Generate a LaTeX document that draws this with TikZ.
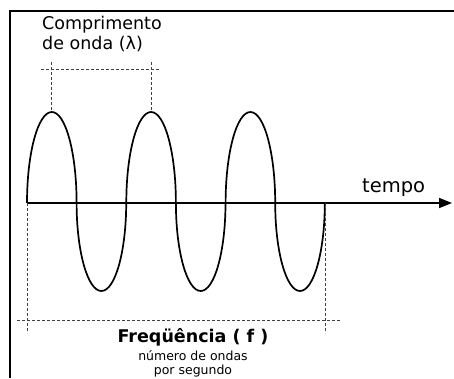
\documentclass[tikz,border=0pt]{standalone}
\usepackage{fontspec}
\setmainfont{DejaVu Sans}
\usetikzlibrary{arrows.meta,positioning}

\begin{document}
\begin{tikzpicture}[x=1pt,y=1pt,
    wave/.style={line width=1.7pt},
    guide/.style={dashed,dash pattern=on 3pt off 2pt,line width=0.8pt,black!75},
    txt/.style={inner sep=0pt,font=\fontsize{17.5}{20}\selectfont}]
        \useasboundingbox (0,0) rectangle (454,378);
        % Frame
        \draw[line width=1.2pt] (10,0) -- (10,367) -- (454,367);
        
        % Time axis
        \coordinate (o) at (27,175);
        \coordinate (tip) at (452,175);
        \draw[line width=1.7pt,-{Triangle[length=13pt,width=10pt]}] (o) -- (tip);
        \node[txt,font=\fontsize{19.5}{20}\selectfont,anchor=base west] (tempo) at (362,186) {tempo};
        
        % Wave (three periods)
        \foreach \k in {0,1,2}
          \draw[wave] ({27+99.3*\k},175)
            arc[start angle=180,end angle=0,x radius=24.8,y radius=91]
            arc[start angle=180,end angle=360,x radius=24.8,y radius=88];
        
        % Wavelength
        \coordinate (p1) at (51.8,268);
        \coordinate (p2) at (151.1,268);
        \draw[guide] (p1) -- (51.8,317);
        \draw[guide] (p2) -- (151.1,317);
        \draw[guide] (41,309) -- (160,309);
        \node[txt,anchor=base west] (comp) at (42,348) {Comprimento};
        \node[txt,anchor=base west] (onda) at (42,328) {de onda (λ)};
        
        % Frequency
        \coordinate (e) at (325,175);
        \draw[guide] (o) -- (27,45);
        \draw[guide] (e) -- (325,45);
        \draw[guide] (17,58) -- (340,58);
        \node[txt,font=\fontsize{17.5}{18}\selectfont\bfseries,anchor=base] (freq) at (193,36) {Freqüência ( f )};
        \node[txt,font=\fontsize{12.5}{12}\selectfont,anchor=base] (num) at (193,18) {número de ondas};
        \node[txt,font=\fontsize{12.5}{12}\selectfont,anchor=base] (seg) at (193,4) {por segundo};
\end{tikzpicture}
\end{document}
